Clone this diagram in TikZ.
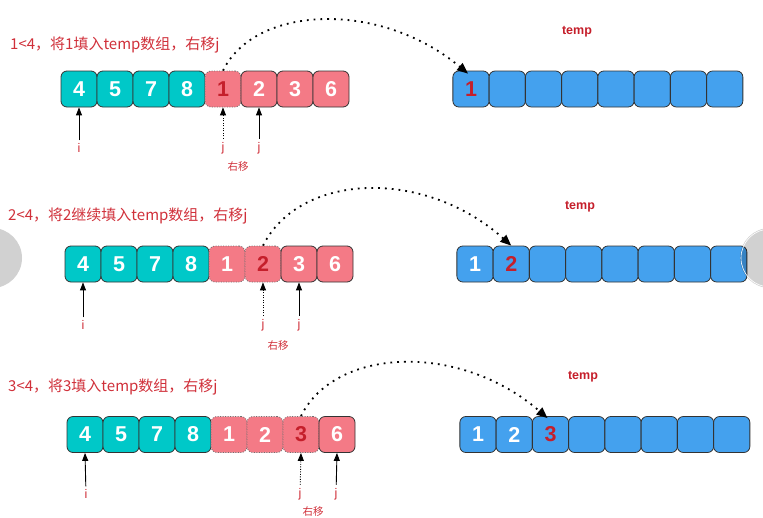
\documentclass[tikz,border=0pt]{standalone}
\usepackage{fontspec}
\setmainfont{Liberation Sans}
\newfontfamily\cjk{Noto Sans CJK SC}
\usetikzlibrary{arrows.meta}
\definecolor{teal0}{HTML}{00C8C8}
\definecolor{pink0}{HTML}{F47A86}
\definecolor{blue0}{HTML}{44A1EE}
\definecolor{red0}{HTML}{C51F2B}
\definecolor{txtred}{HTML}{D0303A}
\definecolor{edge0}{HTML}{333333}
\tikzset{
  cell/.style={minimum width=36pt,minimum height=36pt,rounded corners=6pt,inner sep=0pt,
    draw=edge0,line width=0.8pt,font=\fontsize{21.5}{21.5}\selectfont\bfseries,text=white},
  tealcell/.style={cell,fill=teal0},
  pinkcell/.style={cell,fill=pink0},
  usedcell/.style={cell,fill=pink0,draw=edge0!70,dash pattern=on 1pt off 1.5pt},
  bluecell/.style={cell,fill=blue0,minimum width=36.25pt},
  hot/.style={text=red0},
  title/.style={anchor=west,inner sep=0pt,text=txtred,font=\cjk\fontsize{15}{15}\selectfont},
  templbl/.style={inner sep=0pt,text=red0,font=\fontsize{12.5}{12.5}\selectfont\bfseries},
  ptr/.style={inner sep=1pt,text=txtred,font=\fontsize{12.5}{12.5}\selectfont},
  movelbl/.style={inner sep=0pt,text=txtred,font=\cjk\fontsize{10.5}{10.5}\selectfont},
  uparr/.style={-{Triangle[width=6pt,length=8pt]},line width=0.9pt,shorten <=2pt},
  olduparr/.style={uparr,dash pattern=on 1pt off 1.5pt},
  jump/.style={-{Triangle[width=9pt,length=11pt]},line width=1.8pt,dash pattern=on 1.8pt off 5pt},
}
\begin{document}
\begin{tikzpicture}[x=1pt,y=-1pt]
\useasboundingbox (0,0) rectangle (763,517);
% carousel circles
\fill[black!18] (-8,258) circle (30);
% ---------- Row 1 ----------
\node[title] (t1) at (10,45) {1<4，将1填入temp数组，右移j};
\foreach \v [count=\k from 0] in {4,5,7,8}
  \node[tealcell] (a1\k) at (79+36*\k,89) {\v};
\node[usedcell,hot] (a14) at (223,89) {1};
\node[pinkcell] (a15) at (259,89) {2};
\node[pinkcell] (a16) at (295,89) {3};
\node[pinkcell] (a17) at (331,89) {6};
\node[templbl] (tl1) at (577,32) {temp};
\node[bluecell,hot] (b10) at (471,89) {1};
\foreach \k in {1,...,7}
  \node[bluecell] (b1\k) at (471+36.25*\k,89) {};
\node[ptr] (i1) at (79,148) {i};
\node[ptr] (j1a) at (223,148) {j};
\node[ptr] (j1b) at (259,148) {j};
\node[movelbl] (m1) at (238,167) {右移};
\draw[uparr] (i1) -- (a10.south);
\draw[olduparr] (j1a) -- (a14.south);
\draw[uparr] (j1b) -- (a15.south);
\draw[jump] (a14.north) .. controls (255,5) and (380,0) .. ([xshift=-3pt,yshift=-3pt]b10.north);
% ---------- Row 2 ----------
\node[title] (t2) at (8,216) {2<4，将2继续填入temp数组，右移j};
\foreach \v [count=\k from 0] in {4,5,7,8}
  \node[tealcell] (a2\k) at (83+36*\k,264) {\v};
\node[usedcell] (a24) at (227,264) {1};
\node[usedcell,hot] (a25) at (263,264) {2};
\node[pinkcell] (a26) at (299,264) {3};
\node[pinkcell] (a27) at (335,264) {6};
\node[templbl] (tl2) at (580,207) {temp};
\node[bluecell] (b20) at (475,264) {1};
\node[bluecell,hot] (b21) at (511.25,264) {2};
\foreach \k in {2,...,7}
  \node[bluecell] (b2\k) at (475+36.25*\k,264) {};
\node[ptr] (i2) at (83,325) {i};
\node[ptr] (j2a) at (263,325) {j};
\node[ptr] (j2b) at (299,325) {j};
\node[movelbl] (m2) at (278,346) {右移};
\draw[uparr] (i2) -- (a20.south);
\draw[olduparr] (j2a) -- (a25.south);
\draw[uparr] (j2b) -- (a26.south);
\draw[jump] (a25.north) .. controls (300,172) and (425,168) .. (b21.north);
% ---------- Row 3 ----------
\node[title] (t3) at (8,387) {3<4，将3填入temp数组，右移j};
\foreach \v [count=\k from 0] in {4,5,7,8}
  \node[tealcell] (a3\k) at (85+36*\k,434.5) {\v};
\node[usedcell] (a34) at (229,434.5) {1};
\node[usedcell] (a35) at (265,434.5) {2};
\node[usedcell,hot] (a36) at (301,434.5) {3};
\node[pinkcell] (a37) at (337,434.5) {6};
\node[templbl] (tl3) at (583,377) {temp};
\node[bluecell] (b30) at (478,434.5) {1};
\node[bluecell] (b31) at (514.25,434.5) {2};
\node[bluecell,hot] (b32) at (550.5,434.5) {3};
\foreach \k in {3,...,7}
  \node[bluecell] (b3\k) at (478+36.25*\k,434.5) {};
\node[ptr] (i3) at (86,494) {i};
\node[ptr] (j3a) at (300,494) {j};
\node[ptr] (j3b) at (336,494) {j};
\node[movelbl] (m3) at (313,512) {右移};
\draw[uparr] (i3) -- (a30.south);
\draw[olduparr] (j3a) -- (a36.south);
\draw[uparr] (j3b) -- (a37.south);
\draw[jump] (a36.north) .. controls (335,347) and (460,342) .. ([xshift=-3pt,yshift=-2pt]b32.north);
% right carousel circle (semi-transparent, on top)
\fill[black,opacity=0.18] (770,258) circle (30);
\draw[white,line width=0.6pt] (770,258) circle (29);
\end{tikzpicture}
\end{document}
